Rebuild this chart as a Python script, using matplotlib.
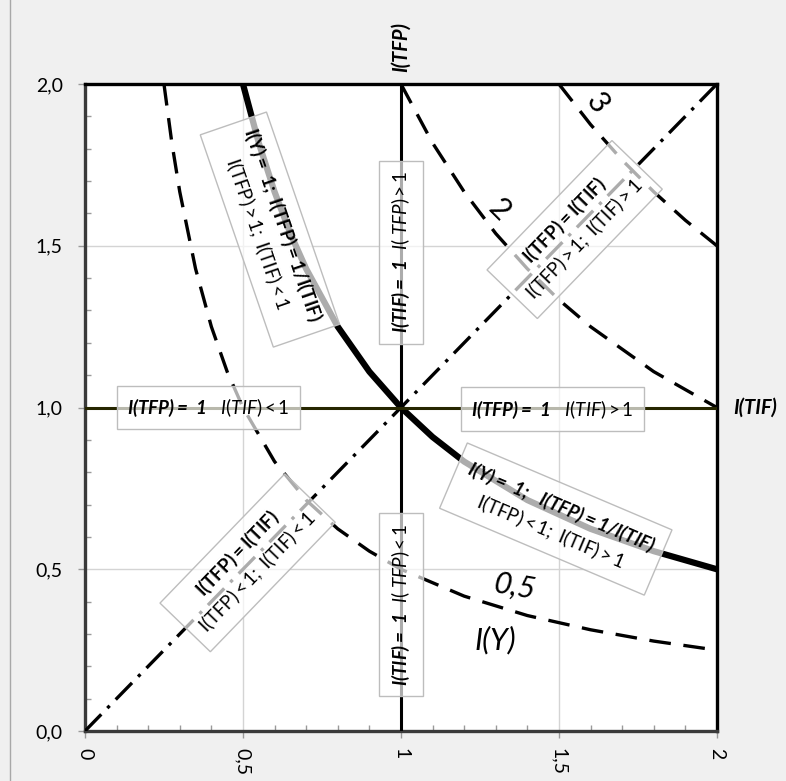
import numpy as np
import matplotlib.pyplot as plt

plt.rcParams['font.family'] = ['Lato', 'DejaVu Sans']
plt.rcParams['mathtext.fontset'] = 'custom'
plt.rcParams['mathtext.rm'] = 'Lato'
plt.rcParams['mathtext.it'] = 'Lato:italic'
plt.rcParams['mathtext.bf'] = 'Lato:bold'
plt.rcParams['mathtext.bfit'] = 'Lato:italic:bold'

# iso-output curves I(Y) = const
x_05 = [0.25, 0.275, 0.3, 0.35, 0.4, 0.45, 0.5, 0.6, 0.7, 0.8, 0.9, 1.0, 1.2, 1.4, 1.6, 1.8, 2.0]
y_05 = [2.0, 1.818, 1.667, 1.429, 1.25, 1.111, 1.0, 0.833, 0.714, 0.625, 0.556, 0.5, 0.417, 0.357, 0.313, 0.278, 0.25]

x_1 = [0.5, 0.55, 0.6, 0.65, 0.7, 0.8, 0.9, 1.0, 1.1, 1.2, 1.4, 1.6, 1.8, 2.0]
y_1 = [2.0, 1.818, 1.667, 1.538, 1.429, 1.25, 1.111, 1.0, 0.909, 0.833, 0.714, 0.625, 0.556, 0.5]

x_2 = [1.0, 1.1, 1.2, 1.3, 1.4, 1.5, 1.6, 1.8, 2.0]
y_2 = [2.0, 1.818, 1.667, 1.538, 1.429, 1.333, 1.25, 1.111, 1.0]

x_3 = [1.5, 1.6, 1.7, 1.8, 1.9, 2.0]
y_3 = [2.0, 1.875, 1.765, 1.667, 1.579, 1.5]

x_diag = [0.0, 2.0]
y_diag = [0.0, 2.0]

xticks = [0, 0.5, 1, 1.5, 2]
xlabels = ['0', '0,5', '1', '1,5', '2']
yticks = [0, 0.5, 1, 1.5, 2]
ylabels = ['0,0', '0,5', '1,0', '1,5', '2,0']

# curve labels: text, x, y, rotation, style
curve_labels = [('3', 1.62, 1.94, -55, 'normal'), ('2', 1.31, 1.61, -45, 'normal'),
                ('0,5', 1.36, 0.445, -10, 'italic'), ('I(Y)', 1.30, 0.28, 0, 'italic')]

# boxes: text, x, y, rotation
boxes = [
    (r"$\mathbfit{I(TIF)=\ 1}\ \ \mathit{I(\ TFP)>1}$", 1.0, 1.48, 90),
    (r"$\mathbfit{I(TIF)=\ 1}\ \ \mathit{I(\ TFP)<1}$", 1.0, 0.39, 90),
    (r"$\mathbfit{I(TFP)=\ 1}\ \ \ \mathit{I(TIF)<1}$", 0.39, 1.0, 0),
    (r"$\mathbfit{I(TFP)=\ 1}\ \ \ \mathit{I(TIF)>1}$", 1.48, 0.995, 0),
    ("$\\mathbf{I(Y)=\\ 1;\\ I(TFP)=1/I(TIF)}$\n$\\mathrm{I(TFP)>1;\\ I(TIF)<1}$", 0.585, 1.55, -71),
    ("$\\mathbf{I(TFP)=I(TIF)}$\n$\\mathrm{I(TFP)>1;\\ I(TIF)>1}$", 1.55, 1.55, 46),
    ("$\\mathbf{I(TFP)=I(TIF)}$\n$\\mathrm{I(TFP)<1;\\ I(TIF)<1}$", 0.515, 0.52, 46),
    ("$\\mathbfit{I(Y)=\\ 1;\\ \\ I(TFP)=1/I(TIF)}$\n$\\mathrm{I(TFP)<1;\\ I(TIF)>1}$", 1.49, 0.655, -23),
]

fig = plt.figure(figsize=(7.86, 7.81), dpi=100, facecolor='#f0f0f0')
ax = fig.add_axes([0.1081, 0.064, 0.804, 0.8284])
ax.set_facecolor('white')

dash = (6.5, 3.8)
for xs, ys in [(x_05, y_05), (x_2, y_2), (x_3, y_3)]:
    ln, = ax.plot(xs, ys, color='black', lw=2.4, zorder=3)
    ln.set_dashes(dash)
ax.plot(x_1, y_1, color='black', lw=4.5, zorder=3, solid_capstyle='butt')
ln, = ax.plot(x_diag, y_diag, color='black', lw=2.4, zorder=3)
ln.set_dashes((7, 2.6, 1, 2.6))
ax.axvline(1.0, color='black', lw=2.2, zorder=3)
ax.axhline(1.0, color='#262600', lw=2.2, zorder=3)

for s, x, y, r, st in curve_labels:
    ax.text(x, y, s, fontsize=22, rotation=r, style=st, ha='center', va='center', zorder=4)

for s, x, y, r in boxes:
    ax.text(x, y, s, fontsize=13.5, rotation=r, rotation_mode='anchor',
            ha='center', va='center', multialignment='center', linespacing=1.25,
            zorder=5,
            bbox=dict(boxstyle='square,pad=0.55', fc=(1, 1, 1, 0.68), ec='#bdbdbd', lw=1))

ax.set_xlim(0, 2)
ax.set_ylim(0, 2)
ax.set_xticks(xticks)
ax.set_xticklabels(xlabels, rotation=270)
ax.set_yticks(yticks)
ax.set_yticklabels(ylabels)
ax.set_xticks(np.arange(0, 2.01, 0.1), minor=True)
ax.set_yticks(np.arange(0, 2.01, 0.1), minor=True)
ax.tick_params(which='major', direction='out', length=5, width=1, color='#9a9a9a', labelsize=14)
ax.tick_params(axis='y', which='major', pad=11)
ax.tick_params(axis='x', which='major', pad=7)
ax.tick_params(which='minor', direction='in', length=4, width=1, color='#9a9a9a')
ax.grid(which='major', color='#d4d4d4', lw=1, zorder=0)
ax.set_axisbelow(True)

for side in ['top', 'right']:
    ax.spines[side].set_color('black')
    ax.spines[side].set_linewidth(2.4)
for side in ['left', 'bottom']:
    ax.spines[side].set_color('#3a3a3a')
    ax.spines[side].set_linewidth(2.4)

ax.text(1.0, 2.115, 'I(TFP)', fontsize=14.5, fontweight='bold', style='italic',
        rotation=90, ha='center', va='center', clip_on=False)
ax.text(2.12, 1.0, 'I(TIF)', fontsize=14.5, fontweight='bold', style='italic',
        ha='center', va='center', clip_on=False)

fig.add_artist(plt.Line2D([10 / 786, 10 / 786], [0, 1], transform=fig.transFigure,
                          color='#a8a8a8', lw=1))

fig.savefig('out.png', dpi=100, facecolor=fig.get_facecolor())
